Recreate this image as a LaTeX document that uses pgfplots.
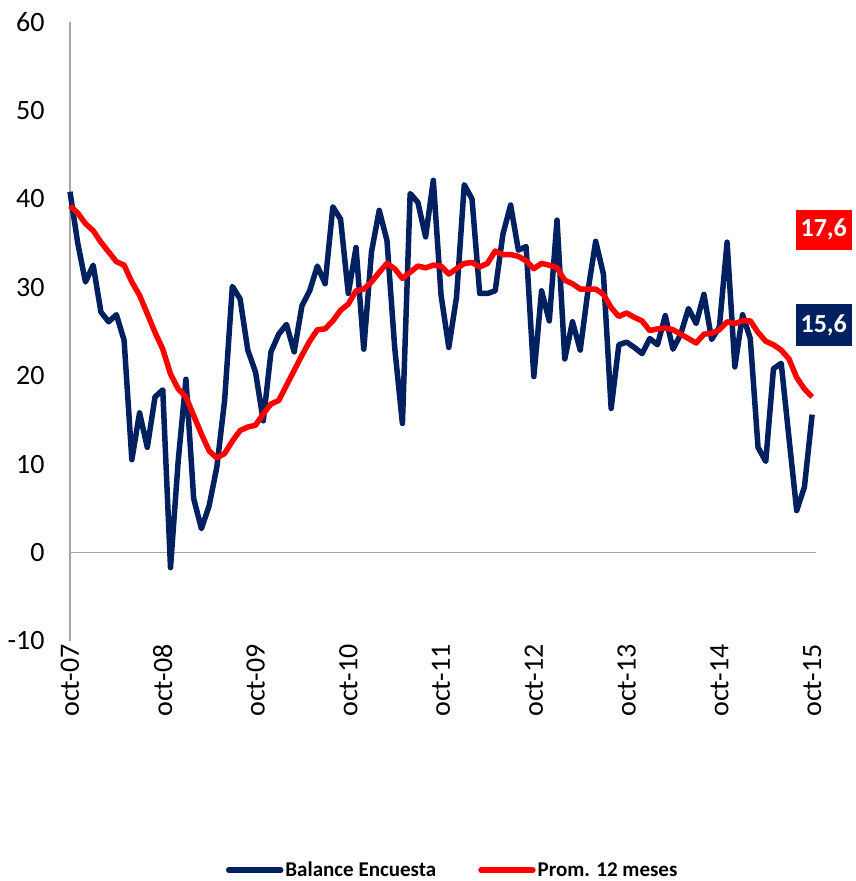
\documentclass[border=0pt]{standalone}
\usepackage{fontspec}
\setmainfont{Carlito}
\usepackage{pgfplots}
\usepackage{pgfplotstable}
\pgfplotsset{compat=1.18}
\definecolor{navy}{HTML}{002060}
\definecolor{axgray}{HTML}{A6A6A6}
\pgfplotstableread{
i bal prom
0 40.8 39.2
1 35.0 38.4
2 30.6 37.2
3 32.5 36.4
4 27.2 35.1
5 26.1 34.0
6 26.9 32.9
7 24.0 32.5
8 10.5 30.6
9 15.8 29.1
10 11.9 27.0
11 17.6 24.9
12 18.4 23.0
13 -1.7 20.2
14 10.4 18.5
15 19.6 17.6
16 6.1 15.5
17 2.7 13.4
18 5.3 11.5
19 9.7 10.7
20 17.2 11.2
21 30.1 12.6
22 28.7 13.8
23 22.9 14.2
24 20.4 14.4
25 14.9 15.7
26 22.7 16.8
27 24.7 17.2
28 25.8 18.9
29 22.7 20.6
30 27.9 22.3
31 29.6 23.9
32 32.4 25.2
33 30.4 25.3
34 39.1 26.2
35 37.7 27.4
36 29.3 28.1
37 34.5 29.6
38 23.0 29.8
39 34.0 30.6
40 38.7 31.7
41 35.3 32.7
42 23.2 32.1
43 14.6 31.0
44 40.6 31.7
45 39.6 32.4
46 35.7 32.2
47 42.1 32.5
48 29.1 32.4
49 23.2 31.5
50 28.9 32.1
51 41.6 32.7
52 40.0 32.8
53 29.3 32.3
54 29.3 32.7
55 29.6 34.1
56 36.0 33.7
57 39.3 33.7
58 34.2 33.5
59 34.6 33.0
60 19.9 32.1
61 29.6 32.7
62 26.2 32.5
63 37.6 32.2
64 21.9 30.8
65 26.1 30.4
66 22.9 29.8
67 29.6 29.8
68 35.2 29.8
69 31.5 29.2
70 16.3 27.7
71 23.5 26.7
72 23.8 27.1
73 23.2 26.6
74 22.5 26.2
75 24.2 25.1
76 23.5 25.3
77 26.8 25.4
78 23.0 25.2
79 24.7 24.7
80 27.6 24.2
81 25.9 23.7
82 29.2 24.7
83 24.1 24.8
84 25.5 25.2
85 35.1 26.1
86 21.0 25.9
87 26.9 26.2
88 24.2 26.2
89 11.9 24.9
90 10.3 23.9
91 20.8 23.5
92 21.4 22.9
93 13.0 21.9
94 4.75 19.8
95 7.4 18.5
96 15.6 17.6
}\datatable
\begin{document}
\begin{tikzpicture}
\useasboundingbox (-70pt,-240pt) rectangle (786pt,641pt);
\begin{axis}[
  at={(0pt,0pt)}, anchor=south west,
  scale only axis, width=746pt, height=619pt,
  xmin=0, xmax=96.5, ymin=-10, ymax=60,
  axis x line*=bottom, axis y line*=left,
  x axis line style={draw=none},
  y axis line style={draw=axgray, line width=1.3pt, -},
  ytick={-10,0,10,20,30,40,50,60},
  xtick={0,12,24,36,48,60,72,84,96},
  xticklabels={oct-07,oct-08,oct-09,oct-10,oct-11,oct-12,oct-13,oct-14,oct-15},
  major tick length=0pt,
  tick label style={font=\fontsize{28}{32}\selectfont, text=black},
  /pgf/number format/assume math mode=true,
  xticklabel style={rotate=90, anchor=east},
  yticklabel style={xshift=-22pt},
  clip=false,
  legend columns=2,
  legend style={draw=none, fill=none, at={(0.513,-0.37)}, anchor=center,
    font=\bfseries\fontsize{21}{24}\selectfont,
    /tikz/every even column/.append style={column sep=40pt}},
  legend image code/.code={\draw[#1, line cap=round] (0pt,0pt) -- (52pt,0pt);},
]
\addplot[axgray, line width=1.3pt, forget plot] coordinates {(0,0) (96.5,0)};
\addplot[navy, line width=5.5pt, line join=round] table[x=i, y=bal] {\datatable};
\addlegendentry{Balance Encuesta}
\addplot[red, line width=5.5pt, line join=round] table[x=i, y=prom] {\datatable};
\addlegendentry{Prom. 12 meses}
\node[fill=red, text=white, font=\bfseries\fontsize{26}{30}\selectfont, minimum width=56pt, minimum height=40pt, inner sep=0pt] at (axis cs:97.5,36.5) {17,6};
\node[fill=navy, text=white, font=\bfseries\fontsize{26}{30}\selectfont, minimum width=56pt, minimum height=42pt, inner sep=0pt] at (axis cs:97.5,25.7) {15,6};
\end{axis}
\end{tikzpicture}
\end{document}
